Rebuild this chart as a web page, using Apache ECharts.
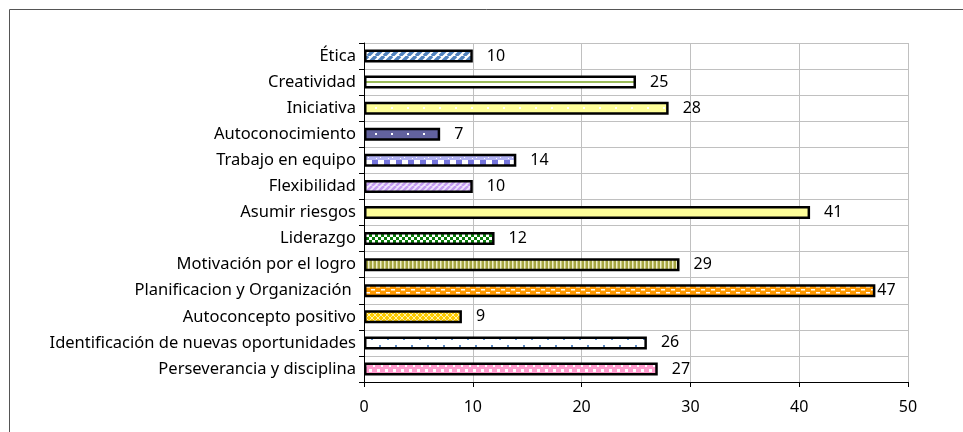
<!DOCTYPE html>
<html>
<head>
<meta charset="utf-8">
<script src="https://cdn.jsdelivr.net/npm/echarts@6/dist/echarts.min.js"></script>
<style>
  html, body { margin: 0; padding: 0; background: #fff; }
  #main { width: 963px; height: 432px; }
</style>
</head>
<body>
<div id="main"></div>
<script>
var categories = [
  'Ética', 'Creatividad', 'Iniciativa', 'Autoconocimiento', 'Trabajo en equipo',
  'Flexibilidad', 'Asumir riesgos', 'Liderazgo', 'Motivación por el logro',
  'Planificacion y Organización ', 'Autoconcepto positivo',
  'Identificación de nuevas oportunidades', 'Perseverancia y disciplina'
];
var values = [10, 25, 28, 7, 14, 10, 41, 12, 29, 47, 9, 26, 27];
var xTicks = [0, 10, 20, 30, 40, 50];

// small canvas tiles used as bar fills
function tile(w, h, bg, draw) {
  var c = document.createElement('canvas');
  c.width = w; c.height = h;
  var g = c.getContext('2d');
  g.fillStyle = bg;
  g.fillRect(0, 0, w, h);
  if (draw) draw(g);
  return { image: c, repeat: 'repeat' };
}
function diag(s, bg, fg, lw) {
  return tile(s, s, bg, function (g) {
    g.strokeStyle = fg; g.lineWidth = lw;
    g.beginPath();
    for (var i = -s; i <= 2 * s; i += s) { g.moveTo(i, s); g.lineTo(i + s, 0); }
    g.stroke();
  });
}

var fills = [
  diag(8, '#ffffff', '#4f81bd', 3.5),
  tile(8, 26, '#ffffff', function (g) { g.fillStyle = '#9bbb59'; g.fillRect(0, 3, 8, 2); }),
  tile(16, 26, '#ffff99', function (g) { g.fillStyle = '#ffffff'; g.fillRect(7, 3, 2, 2); }),
  tile(16, 26, '#62629e', function (g) { g.fillStyle = '#ffffff'; g.fillRect(7, 3, 2, 2); }),
  tile(12, 26, '#ffffff', function (g) {
    g.fillStyle = '#b4b4f4'; g.fillRect(0, 23, 12, 3); g.fillRect(0, 0, 12, 4);
    g.fillStyle = '#ffffff'; g.fillRect(2, 24, 1, 1); g.fillRect(8, 1, 1, 1); g.fillRect(4, 2, 1, 1);
    g.fillStyle = '#7474dc'; g.fillRect(0, 4, 6, 7);
  }),
  diag(6, '#f1e6fd', '#c49cf2', 2.5),
  tile(4, 4, '#ffff99'),
  tile(6, 6, '#0a7d0a', function (g) {
    g.fillStyle = '#ffffff'; g.fillRect(0, 0, 3, 3); g.fillRect(3, 3, 3, 3);
  }),
  tile(4, 4, '#a5a540', function (g) { g.fillStyle = '#eeeec8'; g.fillRect(0, 0, 1.5, 4); }),
  tile(10, 6, '#ff9900', function (g) {
    g.fillStyle = '#ffffff'; g.fillRect(1, 1, 4, 1.5); g.fillRect(6, 4, 4, 1.5);
  }),
  tile(6, 6, '#ffcc00', function (g) {
    g.strokeStyle = '#fff3b0'; g.lineWidth = 1;
    g.beginPath(); g.moveTo(0, 0); g.lineTo(6, 6); g.moveTo(6, 0); g.lineTo(0, 6); g.stroke();
  }),
  tile(16, 26, '#ffffff', function (g) {
    g.fillStyle = '#5f8cc4'; g.fillRect(3, 0, 2, 2); g.fillRect(11, 7, 2, 2);
  }),
  tile(8, 8, '#ff99cc', function (g) {
    g.fillStyle = '#ffffff'; g.fillRect(1, 1, 3, 3); g.fillRect(5, 5, 2, 2);
  })
];

var font = '"Noto Sans", sans-serif';
var chart = echarts.init(document.getElementById('main'));
chart.setOption({
  animation: false,
  grid: { left: 364, right: 55, top: 43, bottom: 50, containLabel: false },
  graphic: [{
    type: 'rect', silent: true,
    shape: { x: 9.5, y: 9.5, width: 2000, height: 2000 },
    style: { fill: 'none', stroke: '#555555', lineWidth: 1 }
  }],
  xAxis: {
    type: 'value', min: 0, max: 50, interval: 10,
    axisLine: { show: true, lineStyle: { color: '#000', width: 1 } },
    axisTick: { show: true, length: 5, lineStyle: { color: '#000' } },
    axisLabel: {
      margin: 17, fontSize: 16, color: '#000', fontFamily: font,
      formatter: function (v) { return xTicks.indexOf(v) >= 0 ? String(v) : ''; }
    },
    splitLine: { show: true, lineStyle: { color: '#c0c0c0', width: 1 } }
  },
  yAxis: {
    type: 'category', inverse: true, data: categories,
    axisLine: { show: true, lineStyle: { color: '#000', width: 1 } },
    axisTick: { show: true, length: 5, lineStyle: { color: '#000' } },
    axisLabel: { margin: 8, fontSize: 16.5, color: '#000', fontFamily: font },
    splitLine: { show: true, lineStyle: { color: '#c0c0c0', width: 1 } }
  },
  series: [{
    type: 'bar',
    barWidth: 13,
    data: values.map(function (v, i) {
      return {
        value: v,
        itemStyle: { color: fills[i], borderColor: '#000', borderWidth: 2.5 },
        label: { distance: v === 47 ? 2 : 14 }
      };
    }),
    label: {
      show: true, position: 'right', fontSize: 16, color: '#000', fontFamily: font
    }
  }]
});
</script>
</body>
</html>
